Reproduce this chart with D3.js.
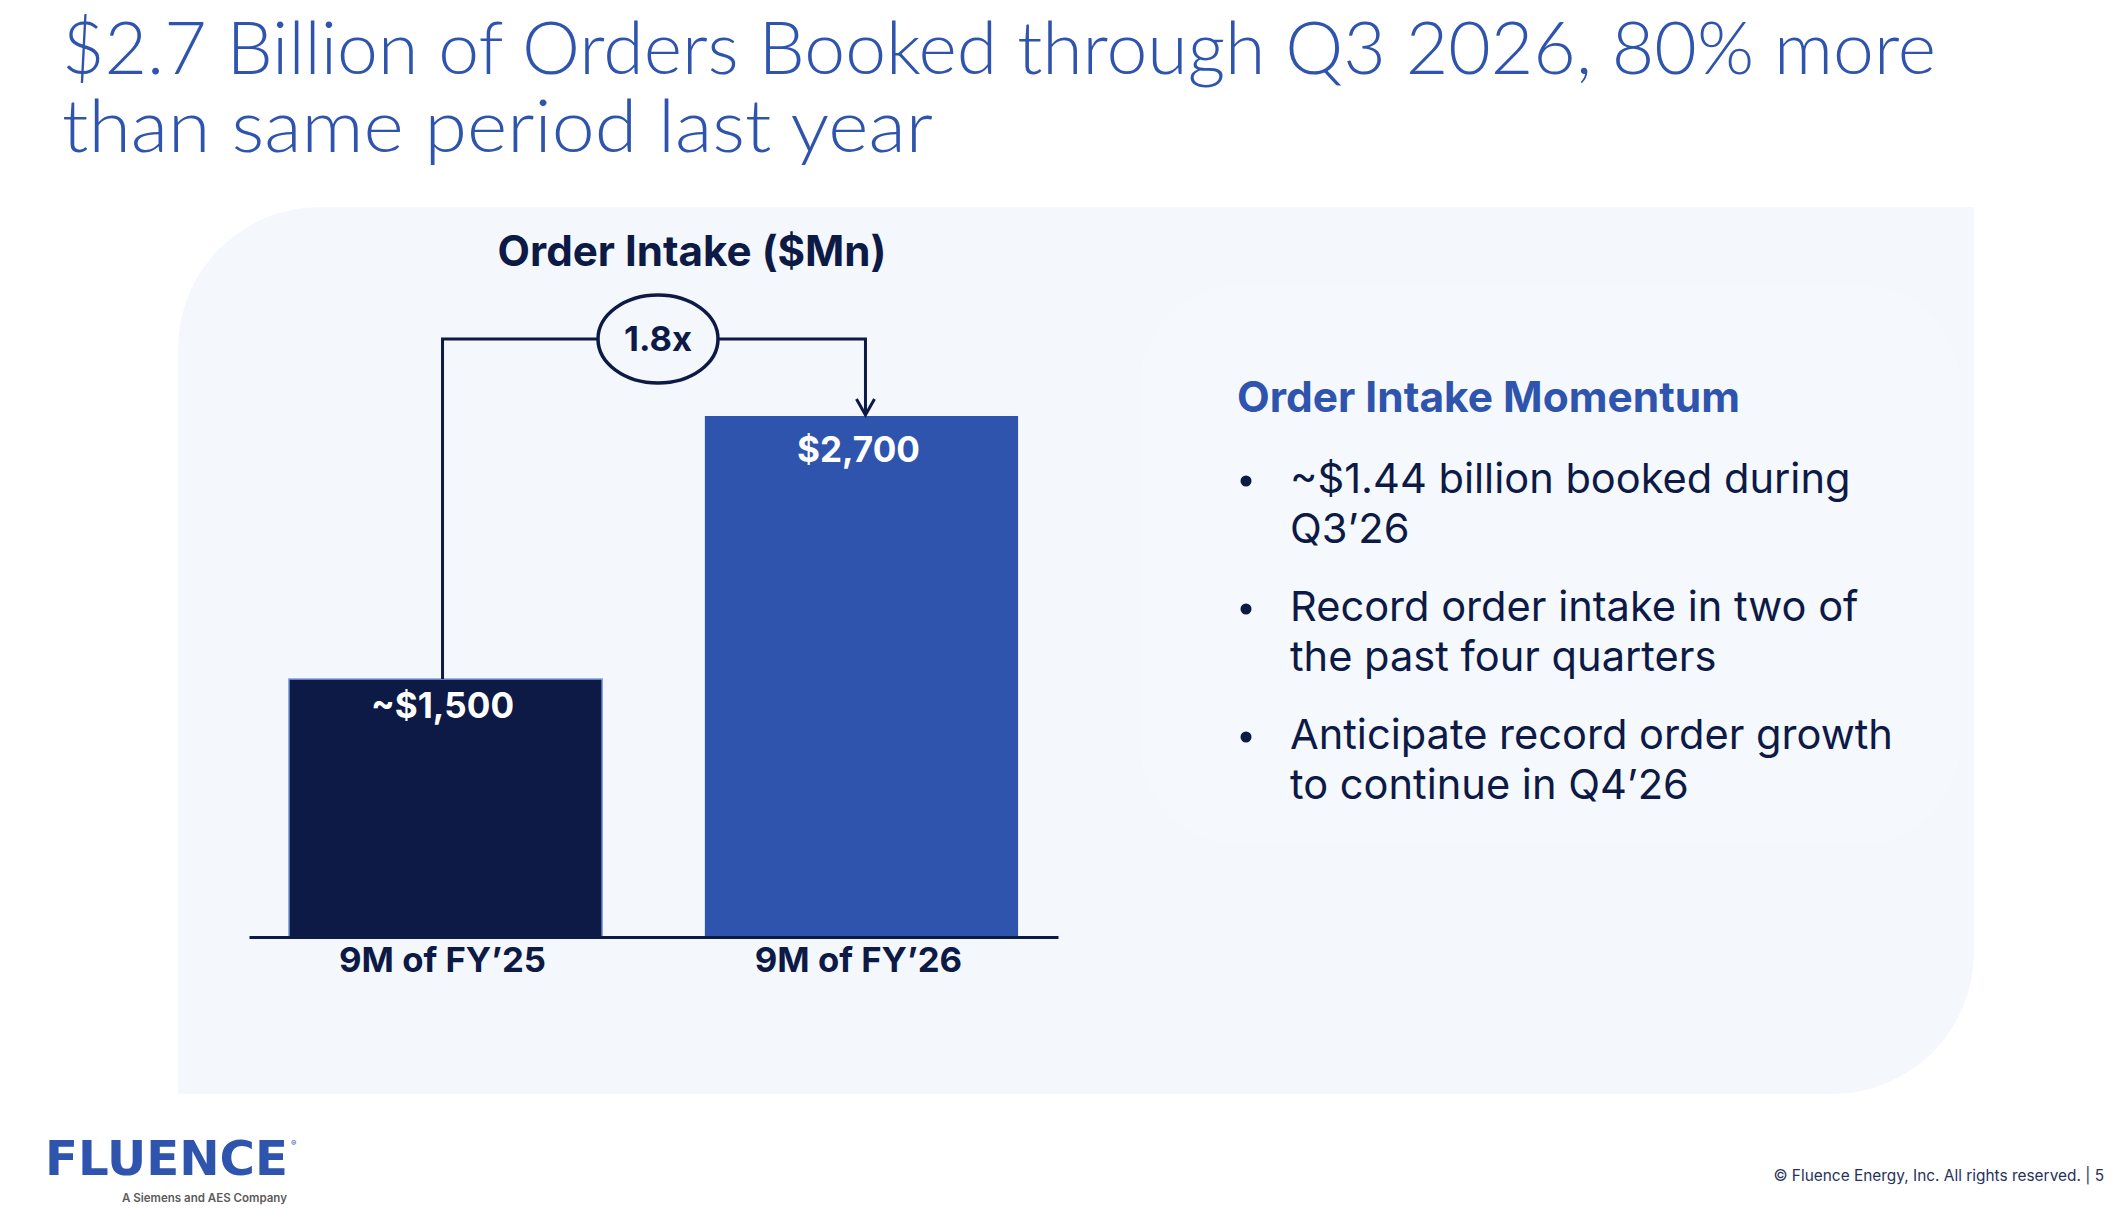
<!DOCTYPE html>
<html>
<head>
<meta charset="utf-8">
<script src="https://cdnjs.cloudflare.com/ajax/libs/d3/7.8.5/d3.min.js"></script>
<style>
  body { margin: 0; background: #ffffff; }
  svg { display: block; font-family: Inter, "Noto Sans", sans-serif; }
</style>
</head>
<body>
<div id="slide"></div>
<script>
// chart data
var categories = ["9M of FY\u201925", "9M of FY\u201926"];
var orderValues = [1500, 2700];
var valueLabels = ["~$1,500", "$2,700"];
var multipleLabel = "1.8x";
var yFloor = 323;   // bars in the deck are not drawn from zero

// slide text
var titleLines = ["$2.7 Billion of Orders Booked through Q3 2026, 80% more",
                  "than same period last year"];
var chartTitle = "Order Intake ($Mn)";
var sideTitle = "Order Intake Momentum";
var bulletPoints = [["~$1.44 billion booked during", "Q3\u201926"],
                    ["Record order intake in two of", "the past four quarters"],
                    ["Anticipate record order growth", "to continue in Q4\u201926"]];
var footerText = "\u00a9 Fluence Energy, Inc. All rights reserved. |  5";

var W = 2120, H = 1212;
var navy = "#0c1a45", blue = "#2e54ae";

var svg = d3.select("#slide").append("svg")
  .attr("width", W).attr("height", H);

// scale font-size so the text spans a given width
function fit(sel, target) {
  var w = sel.node().getComputedTextLength();
  var fs = parseFloat(sel.attr("font-size"));
  sel.attr("font-size", fs * target / w);
  return fs * target / w;
}

// title: tall narrow light type, squeezed to the deck's line widths
var titleWidths = [1874, 871];
titleLines.forEach(function(t, i) {
  svg.append("text")
    .attr("x", 62).attr("y", 74 + i * 78)
    .attr("font-family", "Lato, Inter, sans-serif")
    .attr("font-size", 72).attr("font-weight", 300)
    .attr("textLength", titleWidths[i])
    .attr("lengthAdjust", "spacingAndGlyphs")
    .attr("fill", blue).text(t);
});

// background panel, rounded top-left and bottom-right
var px0 = 178, py0 = 207, px1 = 1974, py1 = 1094, r = 142;
var p = d3.path();
p.moveTo(px0 + r, py0);
p.lineTo(px1, py0);
p.lineTo(px1, py1 - r);
p.arcTo(px1, py1, px1 - r, py1, r);
p.lineTo(px0, py1);
p.lineTo(px0, py0 + r);
p.arcTo(px0, py0, px0 + r, py0, r);
p.closePath();
svg.append("path").attr("d", p.toString()).attr("fill", "#f4f7fc");

svg.append("rect")
  .attr("x", 1140).attr("y", 285).attr("width", 820).attr("height", 560)
  .attr("rx", 100).attr("fill", "#f5f8fd");

// scales
var xScale = d3.scaleBand()
  .domain(categories)
  .range([249, 1058])
  .paddingInner(0.247)
  .paddingOuter(0.096);

var yScale = d3.scaleLinear()
  .domain([yFloor, 2700])
  .range([937, 416]);

// chart title
var ct = svg.append("text")
  .attr("x", 692).attr("y", 266)
  .attr("text-anchor", "middle")
  .attr("font-size", 42).attr("font-weight", 700)
  .attr("fill", navy).text(chartTitle);
fit(ct, 389);

// bars
svg.selectAll(".bar")
  .data(orderValues)
  .enter()
  .append("rect")
  .attr("class", "bar")
  .attr("x", function(d, i) { return xScale(categories[i]); })
  .attr("y", function(d) { return yScale(d); })
  .attr("width", xScale.bandwidth())
  .attr("height", function(d) { return yScale(yFloor) - yScale(d); })
  .attr("fill", function(d, i) { return i == 0 ? navy : blue; })
  .attr("stroke", function(d, i) { return i == 0 ? "#7f9de3" : "none"; })
  .attr("stroke-width", 1.5);

// value labels inside bars
var vl = svg.selectAll(".val")
  .data(orderValues)
  .enter()
  .append("text")
  .attr("class", "val")
  .attr("x", function(d, i) { return xScale(categories[i]) + xScale.bandwidth() / 2 - 3; })
  .attr("y", function(d, i) { return yScale(d) + (i == 0 ? 39 : 46); })
  .attr("text-anchor", "middle")
  .attr("font-size", 37).attr("font-weight", 700)
  .attr("fill", "#ffffff")
  .text(function(d, i) { return valueLabels[i]; });
fit(d3.select(vl.nodes()[1]), 123);
d3.select(vl.nodes()[0]).attr("font-size", d3.select(vl.nodes()[1]).attr("font-size"));

// x axis
var xAxis = d3.axisBottom(xScale).tickSize(0).tickPadding(0);
var gx = svg.append("g")
  .attr("class", "x-axis")
  .attr("transform", "translate(0," + yScale(yFloor) + ")")
  .call(xAxis);
gx.select(".domain").attr("stroke", navy).attr("stroke-width", 3);
gx.selectAll(".tick text")
  .attr("x", -3).attr("y", 35).attr("dy", null)
  .attr("font-family", "Inter, 'Noto Sans', sans-serif")
  .attr("font-size", 35).attr("font-weight", 700)
  .attr("fill", navy);
var tickFs = fit(d3.select(gx.selectAll(".tick text").nodes()[0]), 207);
gx.selectAll(".tick text").attr("font-size", tickFs);

// growth connector
var cx0 = xScale(categories[0]) + xScale.bandwidth() / 2 - 3;
var cx1 = xScale(categories[1]) + xScale.bandwidth() / 2 + 4;
var lineY = 339, ex = 658, rx = 60, ry = 44;
svg.append("path")
  .attr("d", "M" + cx0 + "," + yScale(orderValues[0]) + "V" + lineY + "H" + (ex - rx))
  .attr("fill", "none").attr("stroke", navy).attr("stroke-width", 3);
svg.append("path")
  .attr("d", "M" + (ex + rx) + "," + lineY + "H" + cx1 + "V" + (yScale(orderValues[1]) - 1))
  .attr("fill", "none").attr("stroke", navy).attr("stroke-width", 3);
svg.append("path")
  .attr("d", "M" + (cx1 - 9) + "," + (yScale(orderValues[1]) - 17) +
             "L" + cx1 + "," + (yScale(orderValues[1]) - 1) +
             "L" + (cx1 + 9) + "," + (yScale(orderValues[1]) - 17))
  .attr("fill", "none").attr("stroke", navy).attr("stroke-width", 3);
svg.append("ellipse")
  .attr("cx", ex).attr("cy", lineY).attr("rx", rx).attr("ry", ry)
  .attr("fill", "#f4f7fc").attr("stroke", navy).attr("stroke-width", 3.5);
var mt = svg.append("text")
  .attr("x", ex).attr("y", lineY + 12)
  .attr("text-anchor", "middle")
  .attr("font-size", 35).attr("font-weight", 700)
  .attr("fill", navy).text(multipleLabel);
fit(mt, 68);

// right side commentary
var st = svg.append("text")
  .attr("x", 1237).attr("y", 412)
  .attr("font-size", 41).attr("font-weight", 700)
  .attr("fill", blue).text(sideTitle);
fit(st, 503);

var bulletFs = 41;
var probe = svg.append("text").attr("font-size", 41).text(bulletPoints[2][0]);
bulletFs = fit(probe, 603);
probe.remove();

var bullets = svg.append("g").attr("fill", navy);
bulletPoints.forEach(function(lines, i) {
  var by = 493 + i * 128;
  bullets.append("circle").attr("cx", 1246).attr("cy", by - 12).attr("r", 5.5);
  lines.forEach(function(t, j) {
    bullets.append("text")
      .attr("x", 1290).attr("y", by + j * 50)
      .attr("font-size", bulletFs).text(t);
  });
});

// footer
svg.append("text")
  .attr("x", 45).attr("y", 1175)
  .attr("font-size", 48).attr("font-weight", 700)
  .attr("font-family", "'DejaVu Sans', sans-serif")
  .attr("textLength", 243).attr("lengthAdjust", "spacingAndGlyphs")
  .attr("fill", blue).text("FLUENCE");
svg.append("text")
  .attr("x", 291).attr("y", 1146)
  .attr("font-size", 8).attr("fill", blue).text("\u00ae");
var sub = svg.append("text")
  .attr("x", 122).attr("y", 1202)
  .attr("font-size", 15).attr("font-weight", 600)
  .attr("fill", "#5b5b5b").text("A Siemens and AES Company");
fit(sub, 165);

var ft = svg.append("text")
  .attr("x", 2104).attr("y", 1181)
  .attr("text-anchor", "end")
  .attr("font-size", 16)
  .attr("fill", "#26315a").text(footerText);
fit(ft, 331);
</script>
</body>
</html>
